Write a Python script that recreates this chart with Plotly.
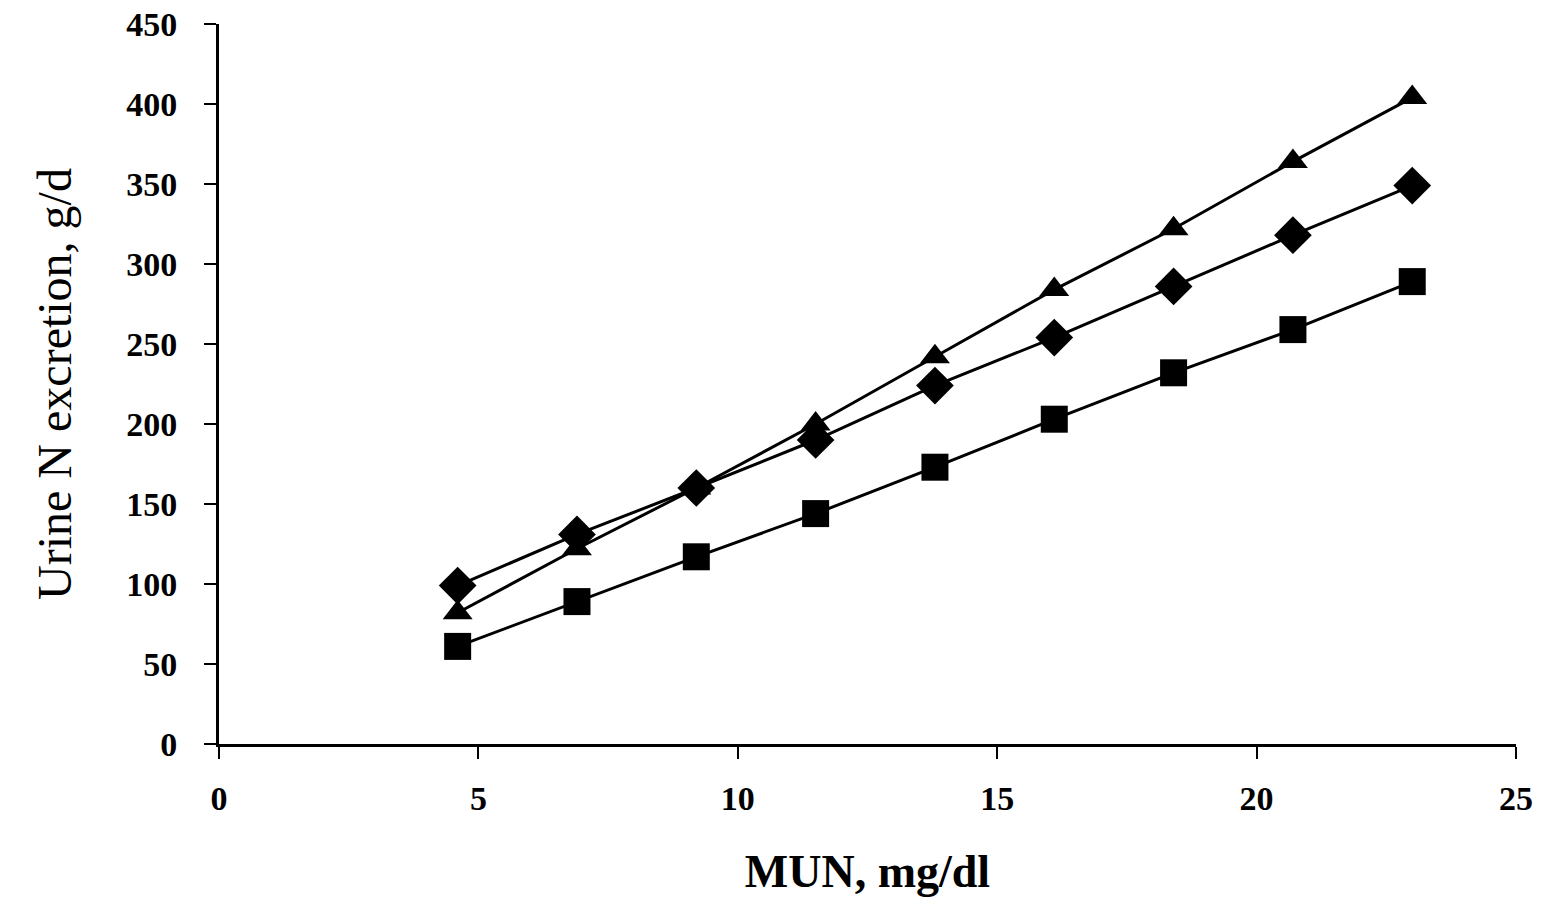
import plotly.graph_objects as go

mun = [4.6, 6.9, 9.2, 11.5, 13.8, 16.1, 18.4, 20.7, 23.0]
triangle_vals = [82, 122, 160, 200, 242, 284, 322, 364, 404]
diamond_vals = [99, 131, 160, 190, 224, 254, 286, 318, 349]
square_vals = [61, 89, 117, 144, 173, 203, 232, 259, 289]

x_ticks = [0, 5, 10, 15, 20, 25]
y_ticks = [0, 50, 100, 150, 200, 250, 300, 350, 400, 450]

fig = go.Figure()
series = [
    ("Triangle", triangle_vals, "triangle-up", 26),
    ("Diamond", diamond_vals, "diamond", 29),
    ("Square", square_vals, "square", 27),
]
for name, vals, sym, sz in series:
    fig.add_trace(go.Scatter(
        x=mun, y=vals, name=name, mode="lines+markers",
        line=dict(color="black", width=3),
        marker=dict(symbol=sym, size=sz, color="black"),
        showlegend=False,
    ))

font_family = "Liberation Serif, Times New Roman, serif"
fig.update_layout(
    width=1550, height=901,
    plot_bgcolor="white", paper_bgcolor="white",
    margin=dict(l=219, r=34, t=24, b=157, autoexpand=False),
    font=dict(family=font_family, color="black"),
)
fig.update_xaxes(
    range=[0, 25], tickvals=x_ticks, ticktext=[f"<b>{t}</b>" for t in x_ticks],
    showline=True, linecolor="black", linewidth=3,
    ticks="outside", ticklen=12, tickwidth=2, tickcolor="black",
    showgrid=False, zeroline=False, ticklabelstandoff=10,
    ticklabeloverflow="allow",
    tickfont=dict(size=34, family=font_family),
    title=dict(text="<b>MUN, mg/dl</b>", font=dict(size=46, family=font_family), standoff=40),
)
fig.update_yaxes(
    range=[0, 450], tickvals=y_ticks, ticktext=[f"<b>{t}</b>" for t in y_ticks],
    showline=True, linecolor="black", linewidth=3,
    ticks="outside", ticklen=12, tickwidth=2, tickcolor="black",
    showgrid=False, zeroline=False, ticklabelstandoff=20,
    ticklabeloverflow="allow",
    tickfont=dict(size=34, family=font_family),
    title=dict(text="Urine N excretion, g/d", font=dict(size=48, family=font_family), standoff=40),
)
fig.write_html(
    "out.html",
    config={"displayModeBar": False},
    post_script="document.body.style.margin='0';document.body.style.overflow='hidden';",
)
